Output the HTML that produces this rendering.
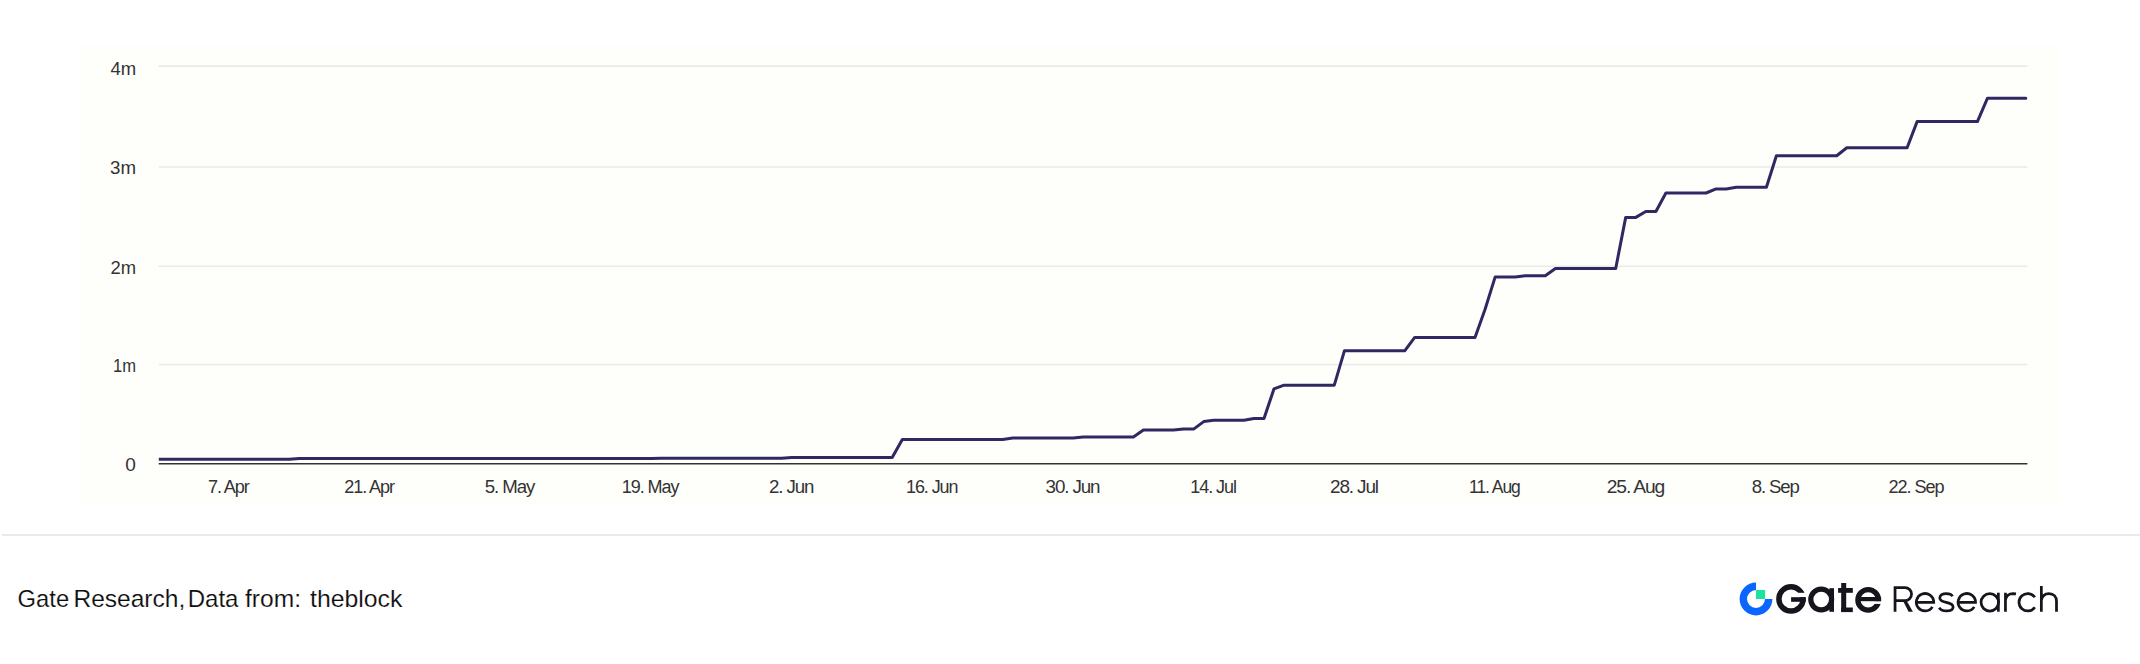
<!DOCTYPE html>
<html><head><meta charset="utf-8"><style>
html,body{margin:0;padding:0;background:#fff;width:2140px;height:664px;overflow:hidden}
svg{position:absolute;left:0;top:0;display:block}
.ax text{font-family:"Liberation Sans",sans-serif;font-size:18.5px;fill:#333}
.ft{font-family:"Liberation Sans",sans-serif;font-size:24px;fill:#0d0d0d;stroke:#fff;stroke-width:0.15px}
</style></head><body>
<svg width="2140" height="664" viewBox="0 0 2140 664">
<rect x="80" y="45" width="1980" height="460" fill="#fefefb"/>
<g id="grid">
<line x1="158.7" x2="2027.4" y1="66.1" y2="66.1" stroke="#ebebe6" stroke-width="1.6"/>
<line x1="158.7" x2="2027.4" y1="167.0" y2="167.0" stroke="#ebebe6" stroke-width="1.6"/>
<line x1="158.7" x2="2027.4" y1="266.2" y2="266.2" stroke="#ebebe6" stroke-width="1.6"/>
<line x1="158.7" x2="2027.4" y1="364.5" y2="364.5" stroke="#ebebe6" stroke-width="1.6"/>
</g>
<line x1="158.7" x2="2027.4" y1="463.8" y2="463.8" stroke="#333" stroke-width="1.6"/>
<defs><clipPath id="plot" clipPathUnits="userSpaceOnUse"><rect x="158.8" y="0" width="1990" height="520"/></clipPath></defs>
<path clip-path="url(#plot)" d="M157.5,459.3 L289.3,459.3 L299.4,458.4 L651.1,458.4 L661.1,458.2 L781.7,458.2 L791.7,457.4 L892.2,457.4 L902.3,439.5 L1002.7,439.5 L1012.8,438.1 L1073.1,438.1 L1083.1,437.0 L1133.4,437.0 L1143.4,430.0 L1173.5,430.0 L1183.6,429.1 L1193.6,429.1 L1203.7,421.6 L1213.7,420.3 L1243.9,420.3 L1253.9,418.6 L1264.0,418.6 L1274.0,388.8 L1284.1,385.2 L1334.3,385.2 L1344.4,350.8 L1404.7,350.8 L1414.7,337.4 L1475.0,337.4 L1485.0,309.5 L1495.1,277.1 L1515.2,277.1 L1525.2,275.7 L1545.3,275.7 L1555.4,268.5 L1615.7,268.5 L1625.7,217.4 L1635.8,217.4 L1645.8,211.5 L1655.9,211.5 L1665.9,193.0 L1706.1,193.0 L1716.1,188.9 L1726.2,188.9 L1736.2,187.3 L1766.4,187.3 L1776.4,155.7 L1836.7,155.7 L1846.8,147.7 L1907.1,147.7 L1917.1,121.6 L1977.4,121.6 L1987.4,98.3 L2025.8,98.3" fill="none" stroke="#2e2863" stroke-width="3" stroke-linejoin="round" stroke-linecap="round"/>
<g class="ax">
<text transform="translate(110.4,74.7) scale(1.0,1)">4m</text>
<text transform="translate(110.09,173.8) scale(1.0125,1)">3m</text>
<text transform="translate(110.5,273.6) scale(0.9958,1)">2m</text>
<text transform="translate(113.0,371.8) scale(0.8958,1)">1m</text>
<text transform="translate(125.3,471.3) scale(1.03,1)">0</text>
<text transform="translate(207.92,492.8) scale(0.9762,1)" style="letter-spacing:-1.1px">7. Apr</text>
<text transform="translate(344.22,492.8) scale(0.9765,1)" style="letter-spacing:-1.1px">21. Apr</text>
<text transform="translate(484.79,492.8) scale(1.0102,1)" style="letter-spacing:-1.1px">5. May</text>
<text transform="translate(621.72,492.8) scale(0.9759,1)" style="letter-spacing:-1.1px">19. May</text>
<text transform="translate(769.09,492.8) scale(1.0093,1)" style="letter-spacing:-1.1px">2. Jun</text>
<text transform="translate(906.03,492.8) scale(0.9712,1)" style="letter-spacing:-1.1px">16. Jun</text>
<text transform="translate(1045.58,492.8) scale(1.0173,1)" style="letter-spacing:-1.1px">30. Jun</text>
<text transform="translate(1190.33,492.8) scale(0.9739,1)" style="letter-spacing:-1.1px">14. Jul</text>
<text transform="translate(1329.98,492.8) scale(1.0239,1)" style="letter-spacing:-1.1px">28. Jul</text>
<text transform="translate(1469.05,492.8) scale(0.9453,1)" style="letter-spacing:-1.1px">11. Aug</text>
<text transform="translate(1606.76,492.8) scale(1.0407,1)" style="letter-spacing:-1.1px">25. Aug</text>
<text transform="translate(1751.69,492.8) scale(1.0064,1)" style="letter-spacing:-1.1px">8. Sep</text>
<text transform="translate(1888.62,492.8) scale(0.9804,1)" style="letter-spacing:-1.1px">22. Sep</text>
</g>
<line x1="2" x2="2140" y1="535" y2="535" stroke="#eaeaea" stroke-width="2"/>
<g class="ft"><text transform="translate(17.6,606.8) scale(0.99,1)">Gate</text><text transform="translate(73.4,606.8) scale(1.024,1)">Research,</text><text transform="translate(187.7,606.8) scale(1.0,1)">Data</text><text transform="translate(245,606.8) scale(1.025,1)">from:</text><text transform="translate(310,606.8) scale(1.034,1)">theblock</text></g>
<g id="logo">
<defs>
<mask id="mG" maskUnits="userSpaceOnUse" x="1700" y="560" width="400" height="80"><rect x="1770" y="575" width="120" height="50" fill="#fff"/><rect x="1791" y="592.8" width="20" height="4.4" fill="#000"/><rect x="1868" y="601.2" width="20" height="2.7" fill="#000"/></mask>
<mask id="mI" maskUnits="userSpaceOnUse" x="1700" y="560" width="400" height="80"><rect x="1730" y="575" width="50" height="50" fill="#fff"/><rect x="1756" y="575" width="30" height="24" fill="#000"/></mask>
</defs>
<circle cx="1756" cy="599" r="12.7" fill="none" stroke="#0a66ff" stroke-width="7.4" mask="url(#mI)"/>
<rect x="1755.9" y="590" width="9.2" height="9" fill="#19e39f"/>
<g fill="#15161d">
<g mask="url(#mG)">
<circle cx="1791" cy="598.9" r="12.1" fill="none" stroke="#15161d" stroke-width="5.45"/>
<circle cx="1868.2" cy="599.9" r="10.28" fill="none" stroke="#15161d" stroke-width="5.35"/>
</g>
<rect x="1791.1" y="597.2" width="14.6" height="4.6"/>
<circle cx="1821.2" cy="599.5" r="10.4" fill="none" stroke="#15161d" stroke-width="5.2"/>
<rect x="1829.4" y="588.2" width="4.6" height="23.6"/>
<rect x="1841.2" y="583" width="5" height="29"/>
<rect x="1838.1" y="588" width="14.7" height="4.8"/>
<rect x="1841.2" y="607.5" width="11.6" height="4.6"/>
<rect x="1860" y="597" width="21.1" height="4.2"/>
</g>
<g fill="none" stroke="#15161d" stroke-width="2.75">
<path d="M1895.05,611.7 V587.55 H1905 A6.55,6.55 0 0 1 1905,600.65 H1895.05"/>
<path d="M1903.2,601.3 L1906.9,601.3 L1912.9,611.7 L1908.6,611.7 Z" fill="#15161d" stroke="none"/>
<path d="M1916.35,602.3 H1933.7 A8.7,8.7 0 1 0 1932.38,606.86"/>
<path d="M1952.6,596.2 C1951.5,594.3 1949.2,593.55 1946.3,593.55 C1942.5,593.55 1939.8,595.3 1939.8,597.9 C1939.8,600.8 1942.6,601.5 1946.3,602.3 C1950.4,603.1 1953.1,604.2 1953.1,607 C1953.1,609.5 1950.4,610.95 1946.3,610.95 C1943,610.95 1940.4,609.8 1939.2,607.6"/>
<path d="M1958.15,602.3 H1975.5 A8.7,8.7 0 1 0 1974.18,606.86"/>
<circle cx="1989.8" cy="602.35" r="8.75"/>
<path d="M1998.35,592.7 V611.7"/>
<path d="M2005.45,611.7 V592.7 M2005.45,600.5 C2005.8,596 2009,593.55 2013,593.55 L2016,593.9"/>
<path d="M2034.83,597.26 A8.7,8.7 0 1 0 2034.83,607.24"/>
<path d="M2041.35,611.7 V586 M2041.35,600.2 C2042.2,596 2045,593.55 2048.9,593.55 C2053.6,593.55 2056.5,596.6 2056.5,601.2 V611.7"/>
</g>
</g>
</svg>
</body></html>
